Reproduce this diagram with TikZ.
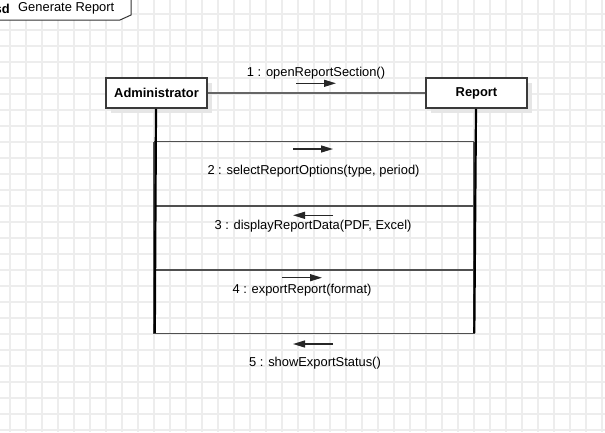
\documentclass[tikz,border=0pt]{standalone}
\usepackage{fontspec}
\setmainfont{Liberation Sans}
\usetikzlibrary{arrows.meta}
\definecolor{gridc}{HTML}{EDEDED}
\definecolor{framec}{HTML}{333333}
\definecolor{boxc}{HTML}{3A3A3A}
\definecolor{linkc}{HTML}{666666}
\definecolor{msgline}{HTML}{505050}
\definecolor{shadowc}{HTML}{E6E6E6}
\begin{document}
\begin{tikzpicture}[x=1pt,y=-1pt,
  lbl/.style={font=\fontsize{12.9}{15}\selectfont, text=black, inner sep=0pt},
  objbox/.style={draw=boxc, line width=1.6pt, fill=white, minimum width=101pt,
    minimum height=30pt, inner sep=0pt, font=\fontsize{12.9}{15}\selectfont\bfseries},
  lifeline/.style={black, line width=2.2pt},
  frameline/.style={msgline, line width=1.8pt},
  msgarrow/.style={black!85, line width=1.3pt, -{Triangle[length=12pt,width=7pt]}},
]
\useasboundingbox (0,0) rectangle (605,432);
\fill[white] (0,0) rectangle (605,432);

% background grid
\foreach \gx in {10,26,...,602} \draw[gridc, line width=1.3pt] (\gx,0) -- (\gx,432);
\foreach \gy in {14,30,...,430} \draw[gridc, line width=1.3pt] (0,\gy) -- (605,\gy);

% sequence diagram frame tab
\draw[framec, line width=1pt, fill=white] (-2,-2) -- (131,-2) -- (131,15) -- (120,20) -- (-2,20);
\node[lbl, anchor=east, font=\fontsize{12.9}{15}\selectfont\bfseries] (sdkw) at (10,8.5) {sd};
\node[lbl, anchor=west] (sdname) at (18,8.5) {Generate Report};

% object boxes with shadows
\fill[shadowc] (111,83) rectangle (212,113);
\fill[shadowc] (431,83) rectangle (532,113);
\node[objbox] (admin) at (156.5,93) {Administrator};
\node[objbox] (report) at (476.5,93) {Report};

% link between the objects
\draw[linkc, line width=1.6pt] (admin.east) -- (report.west);

% message bands
\coordinate (bl1) at (154,141.5); \coordinate (br1) at (474,141.5);
\coordinate (bl2) at (154,206);   \coordinate (br2) at (474,206);
\coordinate (bl3) at (154,270);   \coordinate (br3) at (474,270);
\coordinate (bl4) at (154,333.5); \coordinate (br4) at (474,333.5);
\draw[frameline] (bl1) -- (br1);
\draw[frameline] (bl2) -- (br2);
\draw[frameline] (bl3) -- (br3);
\draw[frameline] (bl1) -- (bl4) -- (br4) -- (br1);

% lifelines
\coordinate (adminEnd) at (154.8,333);
\coordinate (reportEnd) at (474.3,333);
\draw[lifeline] (admin.south) ++(-0.5,0) -- (adminEnd);
\draw[lifeline] (report.south) ++(-0.5,0) -- (reportEnd);

% messages
\coordinate (m1a) at (296,83.3); \coordinate (m1b) at (336,83.3);
\coordinate (m2a) at (293,149);  \coordinate (m2b) at (333,149);
\coordinate (m3a) at (333,215.3); \coordinate (m3b) at (293,215.3);
\coordinate (m4a) at (282,277.7); \coordinate (m4b) at (322,277.7);
\coordinate (m5a) at (333,344);  \coordinate (m5b) at (293,344);
\draw[msgarrow] (m1a) -- (m1b);
\draw[msgarrow] (m2a) -- (m2b);
\draw[msgarrow] (m3a) -- (m3b);
\draw[msgarrow] (m4a) -- (m4b);
\draw[msgarrow] (m5a) -- (m5b);

\node[lbl] (t1) at (316,73.3) {1 : openReportSection()};
\node[lbl] (t2) at (313.5,170.7) {2 : selectReportOptions(type, period)};
\node[lbl] (t3) at (313,226) {3 : displayReportData(PDF, Excel)};
\node[lbl] (t4) at (302,290) {4 : exportReport(format)};
\node[lbl] (t5) at (315,362.7) {5 : showExportStatus()};
\end{tikzpicture}
\end{document}
